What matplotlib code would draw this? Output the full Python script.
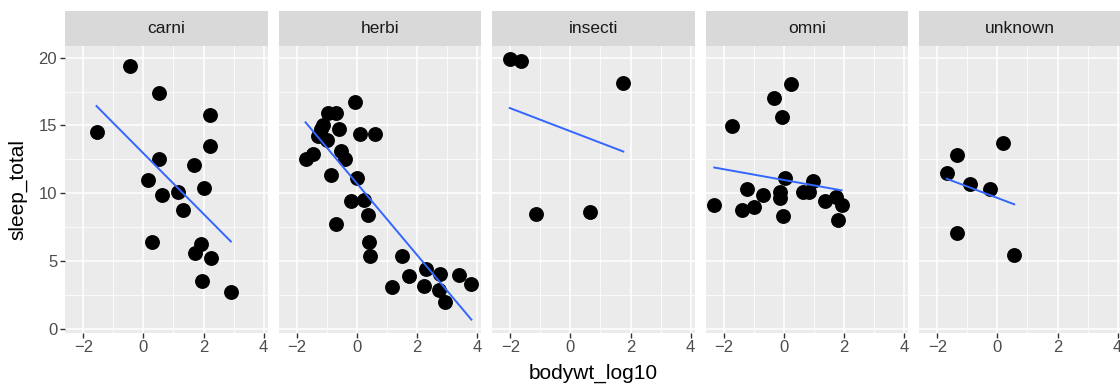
import matplotlib
matplotlib.use("Agg")
import matplotlib.pyplot as plt
import numpy as np

plt.rcParams['font.family'] = ['Liberation Sans', 'DejaVu Sans']

vores = ['carni', 'herbi', 'insecti', 'omni', 'unknown']

carni_x = [-0.44, 0.53, 2.22, -1.56, 2.22, 0.53, 1.70, 0.14, 2.00, 1.14, 0.63, 1.31,
           0.30, 1.93, 1.72, 2.24, 1.94, 2.91]
carni_y = [19.4, 17.4, 15.8, 14.5, 13.5, 12.5, 12.1, 11.0, 10.4, 10.1, 9.85, 8.75,
           6.36, 6.24, 5.6, 5.2, 3.5, 2.7]

herbi_x = [-0.06, -0.97, -0.69, -1.13, -1.19, -0.58, 0.11, 0.59, -1.30, -1.00, -0.52,
           -0.38, -1.47, -1.71, -0.86, 0.01, -0.19, 0.23, 0.38, -0.69, 0.40, 0.44,
           1.51, 2.29, 1.73, 2.78, 3.40, 3.81, 1.17, 2.23, 2.72, 2.94]
herbi_y = [16.7, 15.9, 15.95, 15.0, 14.7, 14.7, 14.4, 14.4, 14.2, 13.9, 13.1,
           12.5, 12.9, 12.5, 11.35, 11.15, 9.43, 9.5, 8.4, 7.74, 6.36, 5.33,
           5.33, 4.42, 3.86, 4.03, 3.93, 3.32, 3.05, 3.12, 2.87, 1.94]

insecti_x = [-2.02, -1.63, 1.76, -1.13, 0.64]
insecti_y = [19.9, 19.75, 18.15, 8.43, 8.62]

omni_x = [0.22, -0.33, -0.06, -1.74, 0.03, 0.98, -1.24, -0.13, -0.71, 0.64, 0.84,
          -0.13, -2.32, 1.37, 1.73, 1.92, -0.99, -1.38, -0.02, 1.79]
omni_y = [18.06, 17.0, 15.65, 14.96, 11.1, 10.93, 10.32, 10.12, 9.83, 10.05, 10.12,
          9.63, 9.14, 9.43, 9.68, 9.12, 8.94, 8.75, 8.33, 8.03]

unknown_x = [0.20, -1.33, -1.69, -0.91, -0.24, -1.36, 0.56]
unknown_y = [13.73, 12.83, 11.52, 10.66, 10.32, 7.03, 5.43]

xs = [carni_x, herbi_x, insecti_x, omni_x, unknown_x]
ys = [carni_y, herbi_y, insecti_y, omni_y, unknown_y]

W, H = 1120, 385
fig = plt.figure(figsize=(W / 100, H / 100), dpi=100)

panel_w = 202.5
step = 213.5
left0 = 65
p_top, p_bot = 45.7, 332.7
s_top = 11

for i, v in enumerate(vores):
    l = left0 + i * step
    ax = fig.add_axes([l / W, (H - p_bot) / H, panel_w / W, (p_bot - p_top) / H])
    ax.set_facecolor('#EBEBEB')
    for sp in ax.spines.values():
        sp.set_visible(False)
    ax.set_xlim(-2.61, 4.13)
    ax.set_ylim(-0.3, 20.88)
    ax.set_xticks([-2, 0, 2, 4])
    ax.set_xticks([-1, 1, 3], minor=True)
    ax.set_yticks([0, 5, 10, 15, 20])
    ax.set_yticks([2.5, 7.5, 12.5, 17.5], minor=True)
    ax.set_xticklabels(['\u22122', '0', '2', '4'])
    ax.grid(which='major', color='white', linewidth=1.1)
    ax.grid(which='minor', color='white', linewidth=0.55)
    ax.set_axisbelow(True)
    ax.tick_params(which='minor', length=0)
    ax.tick_params(which='major', length=3.6, width=1.0, color='#333333',
                   labelsize=12, labelcolor='#4D4D4D', pad=2)
    if i > 0:
        ax.tick_params(axis='y', which='both', left=False, labelleft=False)

    x = np.array(xs[i])
    y = np.array(ys[i])
    ax.scatter(x, y, s=115, color='black', linewidths=0, zorder=3)
    b, a = np.polyfit(x, y, 1)
    lx = np.array([x.min(), x.max()])
    ax.plot(lx, a + b * lx, color='#3366FF', linewidth=1.4, zorder=4)

    sax = fig.add_axes([l / W, (H - p_top) / H, panel_w / W, (p_top - s_top) / H])
    sax.set_facecolor('#D9D9D9')
    for sp in sax.spines.values():
        sp.set_visible(False)
    sax.set_xticks([])
    sax.set_yticks([])
    sax.text(0.5, 0.5, v, ha='center', va='center', fontsize=12.5,
             color='#1A1A1A', transform=sax.transAxes)

fig.text(18 / W, 1 - ((p_top + p_bot) / 2) / H, 'sleep_total', rotation=90,
         ha='center', va='center', fontsize=15, color='black')
fig.text((left0 + (4 * step + panel_w) / 2) / W, 1 - 373 / H, 'bodywt_log10',
         ha='center', va='center', fontsize=15, color='black')

fig.savefig('out.png', dpi=100)
